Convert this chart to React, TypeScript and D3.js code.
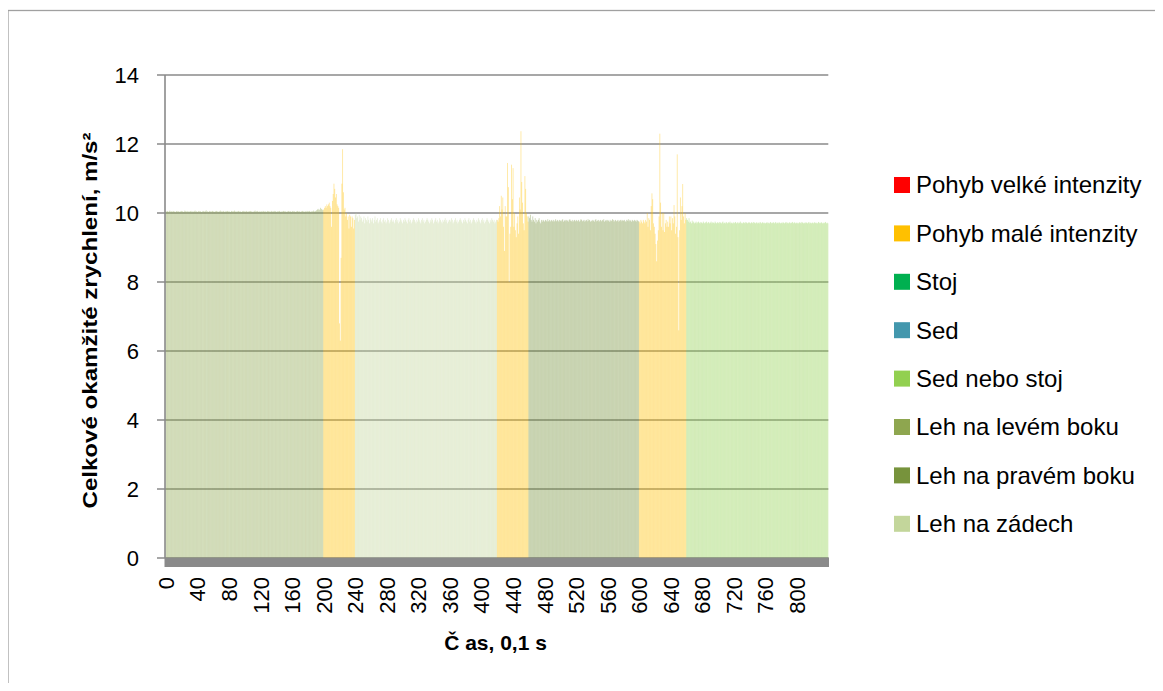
import React from "react";
import * as d3 from "d3";

// ---------- data ----------
const seriesNames = [
  "Pohyb velké intenzity",
  "Pohyb malé intenzity",
  "Stoj",
  "Sed",
  "Sed nebo stoj",
  "Leh na levém boku",
  "Leh na pravém boku",
  "Leh na zádech",
];
const seriesColors = ["#FF0000", "#FFC000", "#00B050", "#4397AD", "#92D050", "#8EA64F", "#77933C", "#C3D69B"];

// time segments: start category and activity (index into seriesNames)
const segmentStarts = [0, 200, 240, 420, 460, 600, 660];
const segmentActivity = [5, 1, 7, 1, 6, 1, 4];

const segValuesA = `10.05 10.04 10.06 10.03 10.05 10.07 10.04 10.05 10.03 10.06 10.05 10.04 10.02 10.05 10.06 10.04 10.05 10.03 10.05 10.04
10.06 10.05 10.03 10.04 10.07 10.05 10.04 10.06 10.03 10.05 10.04 10.05 10.06 10.02 10.05 10.04 10.05 10.07 10.04 10.05
10.03 10.05 10.06 10.04 10.05 10.03 10.04 10.06 10.05 10.04 10.05 10.08 10.04 10.05 10.03 10.06 10.04 10.05 10.04 10.06
10.05 10.03 10.04 10.05 10.06 10.04 10.05 10.03 10.05 10.07 10.04 10.05 10.04 10.06 10.03 10.05 10.04 10.05 10.06 10.04
10.05 10.04 10.03 10.06 10.05 10.04 10.05 10.07 10.04 10.05 10.03 10.05 10.06 10.04 10.05 10.04 10.03 10.05 10.06 10.04
10.05 10.04 10.06 10.03 10.05 10.04 10.05 10.06 10.04 10.05 10.03 10.04 10.05 10.07 10.04 10.05 10.06 10.03 10.05 10.04
10.04 10.05 10.03 10.06 10.05 10.04 10.05 10.03 10.04 10.06 10.05 10.04 10.05 10.03 10.06 10.04 10.05 10.04 10.06 10.05
10.03 10.05 10.04 10.05 10.06 10.04 10.03 10.05 10.04 10.06 10.05 10.04 10.05 10.03 10.04 10.06 10.05 10.04 10.05 10.03
10.05 10.06 10.04 10.05 10.03 10.04 10.05 10.06 10.04 10.05 10.04 10.03 10.05 10.06 10.04 10.05 10.03 10.05 10.04 10.06
10.04 10.05 10.06 10.03 10.05 10.04 10.05 10.07 10.04 10.05 10.06 10.08 10.10 10.12 10.08 10.10 10.15 10.12 10.10 10.08`;

const segValuesB = `10.1 10.15 10.2 10.15 10.25 10.2 10.25 10.3 10.2 10.15
9.6 10.35 10.55 10.85 10.7 10.45 10.55 10.25 10.2 10.15
6.8 6.3 8.7 10.85 11.85 10.6 10.1 10.15 9.9 10.0
9.8 9.9 9.55 9.95 9.9 9.6 9.9 9.85 9.55 9.8`;

const segValuesC = `9.95 10.0 9.85 9.9 9.75 9.95 9.8 9.9 9.85 9.75 9.8 9.9 9.7 9.85 9.8 9.75 9.9 9.8 9.7 9.85
9.8 9.75 9.85 9.7 9.8 9.9 9.75 9.8 9.85 9.7 9.75 9.8 9.85 9.75 9.7 9.8 9.85 9.75 9.8 9.7
9.75 9.85 9.8 9.7 9.75 9.8 9.85 9.75 9.8 9.75 9.7 9.8 9.85 9.75 9.8 9.7 9.75 9.85 9.8 9.75
9.7 9.8 9.75 9.85 9.8 9.75 9.7 9.8 9.85 9.75 9.8 9.7 9.75 9.8 9.85 9.8 9.75 9.7 9.8 9.75
9.85 9.8 9.75 9.7 9.8 9.85 9.75 9.8 9.7 9.75 9.8 9.85 9.8 9.75 9.7 9.8 9.75 9.85 9.8 9.7
9.75 9.8 9.85 9.75 9.8 9.7 9.75 9.85 9.8 9.75 9.7 9.8 9.75 9.8 9.85 9.75 9.8 9.7 9.75 9.8
9.8 9.75 9.85 9.8 9.7 9.75 9.8 9.85 9.75 9.8 9.7 9.75 9.8 9.85 9.8 9.75 9.7 9.8 9.75 9.85
9.8 9.75 9.7 9.8 9.85 9.75 9.8 9.7 9.75 9.8 9.85 9.8 9.75 9.7 9.8 9.75 9.85 9.8 9.75 9.7
9.8 9.85 9.75 9.8 9.7 9.75 9.8 9.85 9.8 9.75 9.7 9.8 9.75 9.85 9.8 9.75 9.8 9.7 9.75 9.8`;

const segValuesD = `9.8 9.75 9.85 10.2 9.9 10.5 10.1 10.45 9.6 8.9
10.2 9.9 9.9 11.45 10.75 8.0 9.4 9.6 11.4 10.4
11.3 9.6 10.0 9.5 9.3 9.7 9.9 9.4 10.45 10.1
12.37 10.9 10.3 9.7 9.5 11.07 10.7 10.0 9.9 9.75`;

const segValuesE = `9.9 9.85 9.95 9.8 9.75 9.9 9.8 9.75 9.85 9.7 9.8 9.75 9.8 9.85 9.75 9.7 9.8 9.75 9.8 9.78
9.75 9.8 9.78 9.75 9.82 9.76 9.8 9.75 9.78 9.8 9.76 9.8 9.75 9.78 9.82 9.76 9.8 9.78 9.75 9.8
9.78 9.76 9.8 9.82 9.75 9.78 9.8 9.76 9.8 9.78 9.75 9.8 9.82 9.78 9.76 9.8 9.75 9.78 9.8 9.76
9.8 9.78 9.76 9.8 9.75 9.78 9.82 9.8 9.76 9.78 9.8 9.75 9.78 9.8 9.76 9.82 9.78 9.8 9.75 9.78
9.76 9.8 9.78 9.75 9.8 9.82 9.76 9.78 9.8 9.75 9.78 9.8 9.76 9.8 9.78 9.82 9.75 9.78 9.8 9.76
9.8 9.78 9.75 9.8 9.76 9.78 9.82 9.8 9.75 9.78 9.8 9.76 9.78 9.8 9.75 9.78 9.8 9.76 9.8 9.78
9.78 9.8 9.76 9.75 9.8 9.78 9.82 9.76 9.8 9.78 9.75 9.8 9.78 9.76 9.8 9.78 9.75 9.8 9.78 9.76`;

const segValuesF = `9.75 9.7 9.8 9.75 9.7 9.8 9.75 9.7 9.8 9.75
10.0 9.6 9.85 9.8 9.5 10.2 10.57 10.4 9.7 9.6
9.4 9.1 8.6 9.2 9.5 9.9 12.3 10.3 9.6 10.0
9.5 10.0 9.45 9.7 9.8 9.6 9.75 9.6 9.9 9.7
9.9 9.5 9.85 9.7 10.23 9.9 9.4 9.6 11.7 9.3
6.6 9.5 10.45 9.8 10.2 10.84 9.9 9.7 10.0 9.8`;

const segValuesG = `9.85 9.8 9.75 9.85 9.72 9.75 9.7 9.78 9.72 9.75 9.7 9.72 9.75 9.7 9.73 9.75 9.72 9.7 9.74 9.72
9.7 9.75 9.72 9.7 9.73 9.75 9.7 9.72 9.74 9.7 9.72 9.75 9.7 9.73 9.72 9.7 9.75 9.72 9.7 9.73
9.72 9.7 9.74 9.72 9.7 9.73 9.75 9.7 9.72 9.7 9.74 9.72 9.7 9.73 9.72 9.75 9.7 9.72 9.7 9.73
9.7 9.72 9.74 9.7 9.72 9.73 9.7 9.72 9.75 9.7 9.72 9.7 9.73 9.72 9.7 9.74 9.72 9.7 9.72 9.73
9.72 9.7 9.73 9.72 9.7 9.74 9.72 9.7 9.72 9.73 9.7 9.72 9.7 9.74 9.72 9.7 9.73 9.72 9.7 9.72
9.7 9.72 9.73 9.7 9.72 9.7 9.74 9.72 9.7 9.72 9.73 9.7 9.72 9.74 9.7 9.72 9.7 9.73 9.72 9.7
9.72 9.7 9.73 9.72 9.7 9.72 9.74 9.7 9.72 9.7 9.73 9.72 9.7 9.72 9.74 9.7 9.72 9.73 9.7 9.72
9.7 9.72 9.7 9.73 9.72 9.7 9.74 9.72 9.7 9.72 9.7 9.73 9.72 9.7 9.72 9.74 9.7 9.72 9.7 9.72
9.72 9.7 9.73 9.72 9.7 9.72 9.7 9.74 9.72 9.7 9.72 9.73 9.7 9.72 9.7 9.72 9.74 9.7 9.72 9.7`;

const segmentValues = [segValuesA, segValuesB, segValuesC, segValuesD, segValuesE, segValuesF, segValuesG];

const yTicks = [0, 2, 4, 6, 8, 10, 12, 14];
const xTickLabels = [0, 40, 80, 120, 160, 200, 240, 280, 320, 360, 400, 440, 480, 520, 560, 600, 640, 680, 720, 760, 800];

const yTitle = "Celkové okamžité zrychlení, m/s²";
const xTitle = "Č as, 0,1 s";

// ---------- build records ----------
type Rec = { cat: number; act: number; value: number };
const records: Rec[] = [];
segmentValues.forEach((s, i) => {
  const vals = s.trim().split(/\s+/).map(Number);
  vals.forEach((v, j) => records.push({ cat: segmentStarts[i] + j, act: segmentActivity[i], value: v }));
});
const categories = records.map((r) => r.cat);

// ---------- layout ----------
const PLOT_L = 165.5;
const PLOT_R = 828.3;
const PLOT_T = 75;
const PLOT_B = 558;
const FONT = "'Liberation Sans', Arial, sans-serif";

export default function App() {
  const x = d3.scaleBand<number>().domain(categories).range([PLOT_L, PLOT_R]).padding(0);
  const y = d3.scaleLinear().domain([0, 14]).range([PLOT_B, PLOT_T]);
  const bw = x.bandwidth();

  return (
    <svg width={1147} height={675} style={{ display: "block" }}>
      <g transform="translate(-8,-8)">
        <rect x={8} y={10.5} width={1300} height={900} fill="#fff" stroke="#a0a0a0" strokeWidth={1.3} />

        {/* gridlines + ticks */}
        {yTicks.map((t) => (
          <line key={"g" + t} x1={157} x2={PLOT_R} y1={y(t)} y2={y(t)} stroke="#8a8a8a" strokeWidth={1.6} />
        ))}

        {/* bars */}
        <g>
          {records.map((r) => (
            <rect
              key={r.cat}
              x={x(r.cat)!}
              width={bw}
              y={y(r.value)}
              height={PLOT_B - y(r.value)}
              fill={seriesColors[r.act]}
              fillOpacity={0.43}
            />
          ))}
        </g>

        {/* y axis line */}
        <line x1={165} x2={165} y1={PLOT_T} y2={PLOT_B} stroke="#8a8a8a" strokeWidth={1.6} />
        {/* floor */}
        <rect x={164.5} y={557.5} width={PLOT_R + 0.7 - 164.5} height={9.5} fill="#8a8a8a" />

        {/* y tick labels */}
        {yTicks.map((t) => (
          <text
            key={"yl" + t}
            x={139}
            y={y(t)}
            dy="0.35em"
            textAnchor="end"
            fontFamily={FONT}
            fontSize={22}
            fill="#000"
          >
            {t}
          </text>
        ))}

        {/* x tick labels */}
        {xTickLabels.map((c) => {
          const cx = x(c)! + bw / 2;
          return (
            <text
              key={"xl" + c}
              transform={`translate(${cx},577) rotate(-90)`}
              dy="0.36em"
              textAnchor="end"
              fontFamily={FONT}
              fontSize={22}
              fill="#000"
            >
              {c}
            </text>
          );
        })}

        {/* axis titles */}
        <text
          transform={`translate(97,${(PLOT_T + PLOT_B) / 2 + 4}) rotate(-90)`}
          textAnchor="middle"
          fontFamily={FONT}
          fontSize={21}
          fontWeight="bold"
          fill="#000"
          textLength={376}
          lengthAdjust="spacingAndGlyphs"
        >
          {yTitle}
        </text>
        <text
          x={495.5}
          y={650}
          textAnchor="middle"
          fontFamily={FONT}
          fontSize={21}
          fontWeight="bold"
          fill="#000"
        >
          {xTitle}
        </text>

        {/* legend */}
        {seriesNames.map((n, i) => {
          const cy = 185 + i * 48.4;
          return (
            <g key={n}>
              <rect x={894} y={cy - 8} width={16} height={16} fill={seriesColors[i]} />
              <text x={916} y={cy} dy="0.35em" fontFamily={FONT} fontSize={24} fill="#000">
                {n}
              </text>
            </g>
          );
        })}
      </g>
    </svg>
  );
}
